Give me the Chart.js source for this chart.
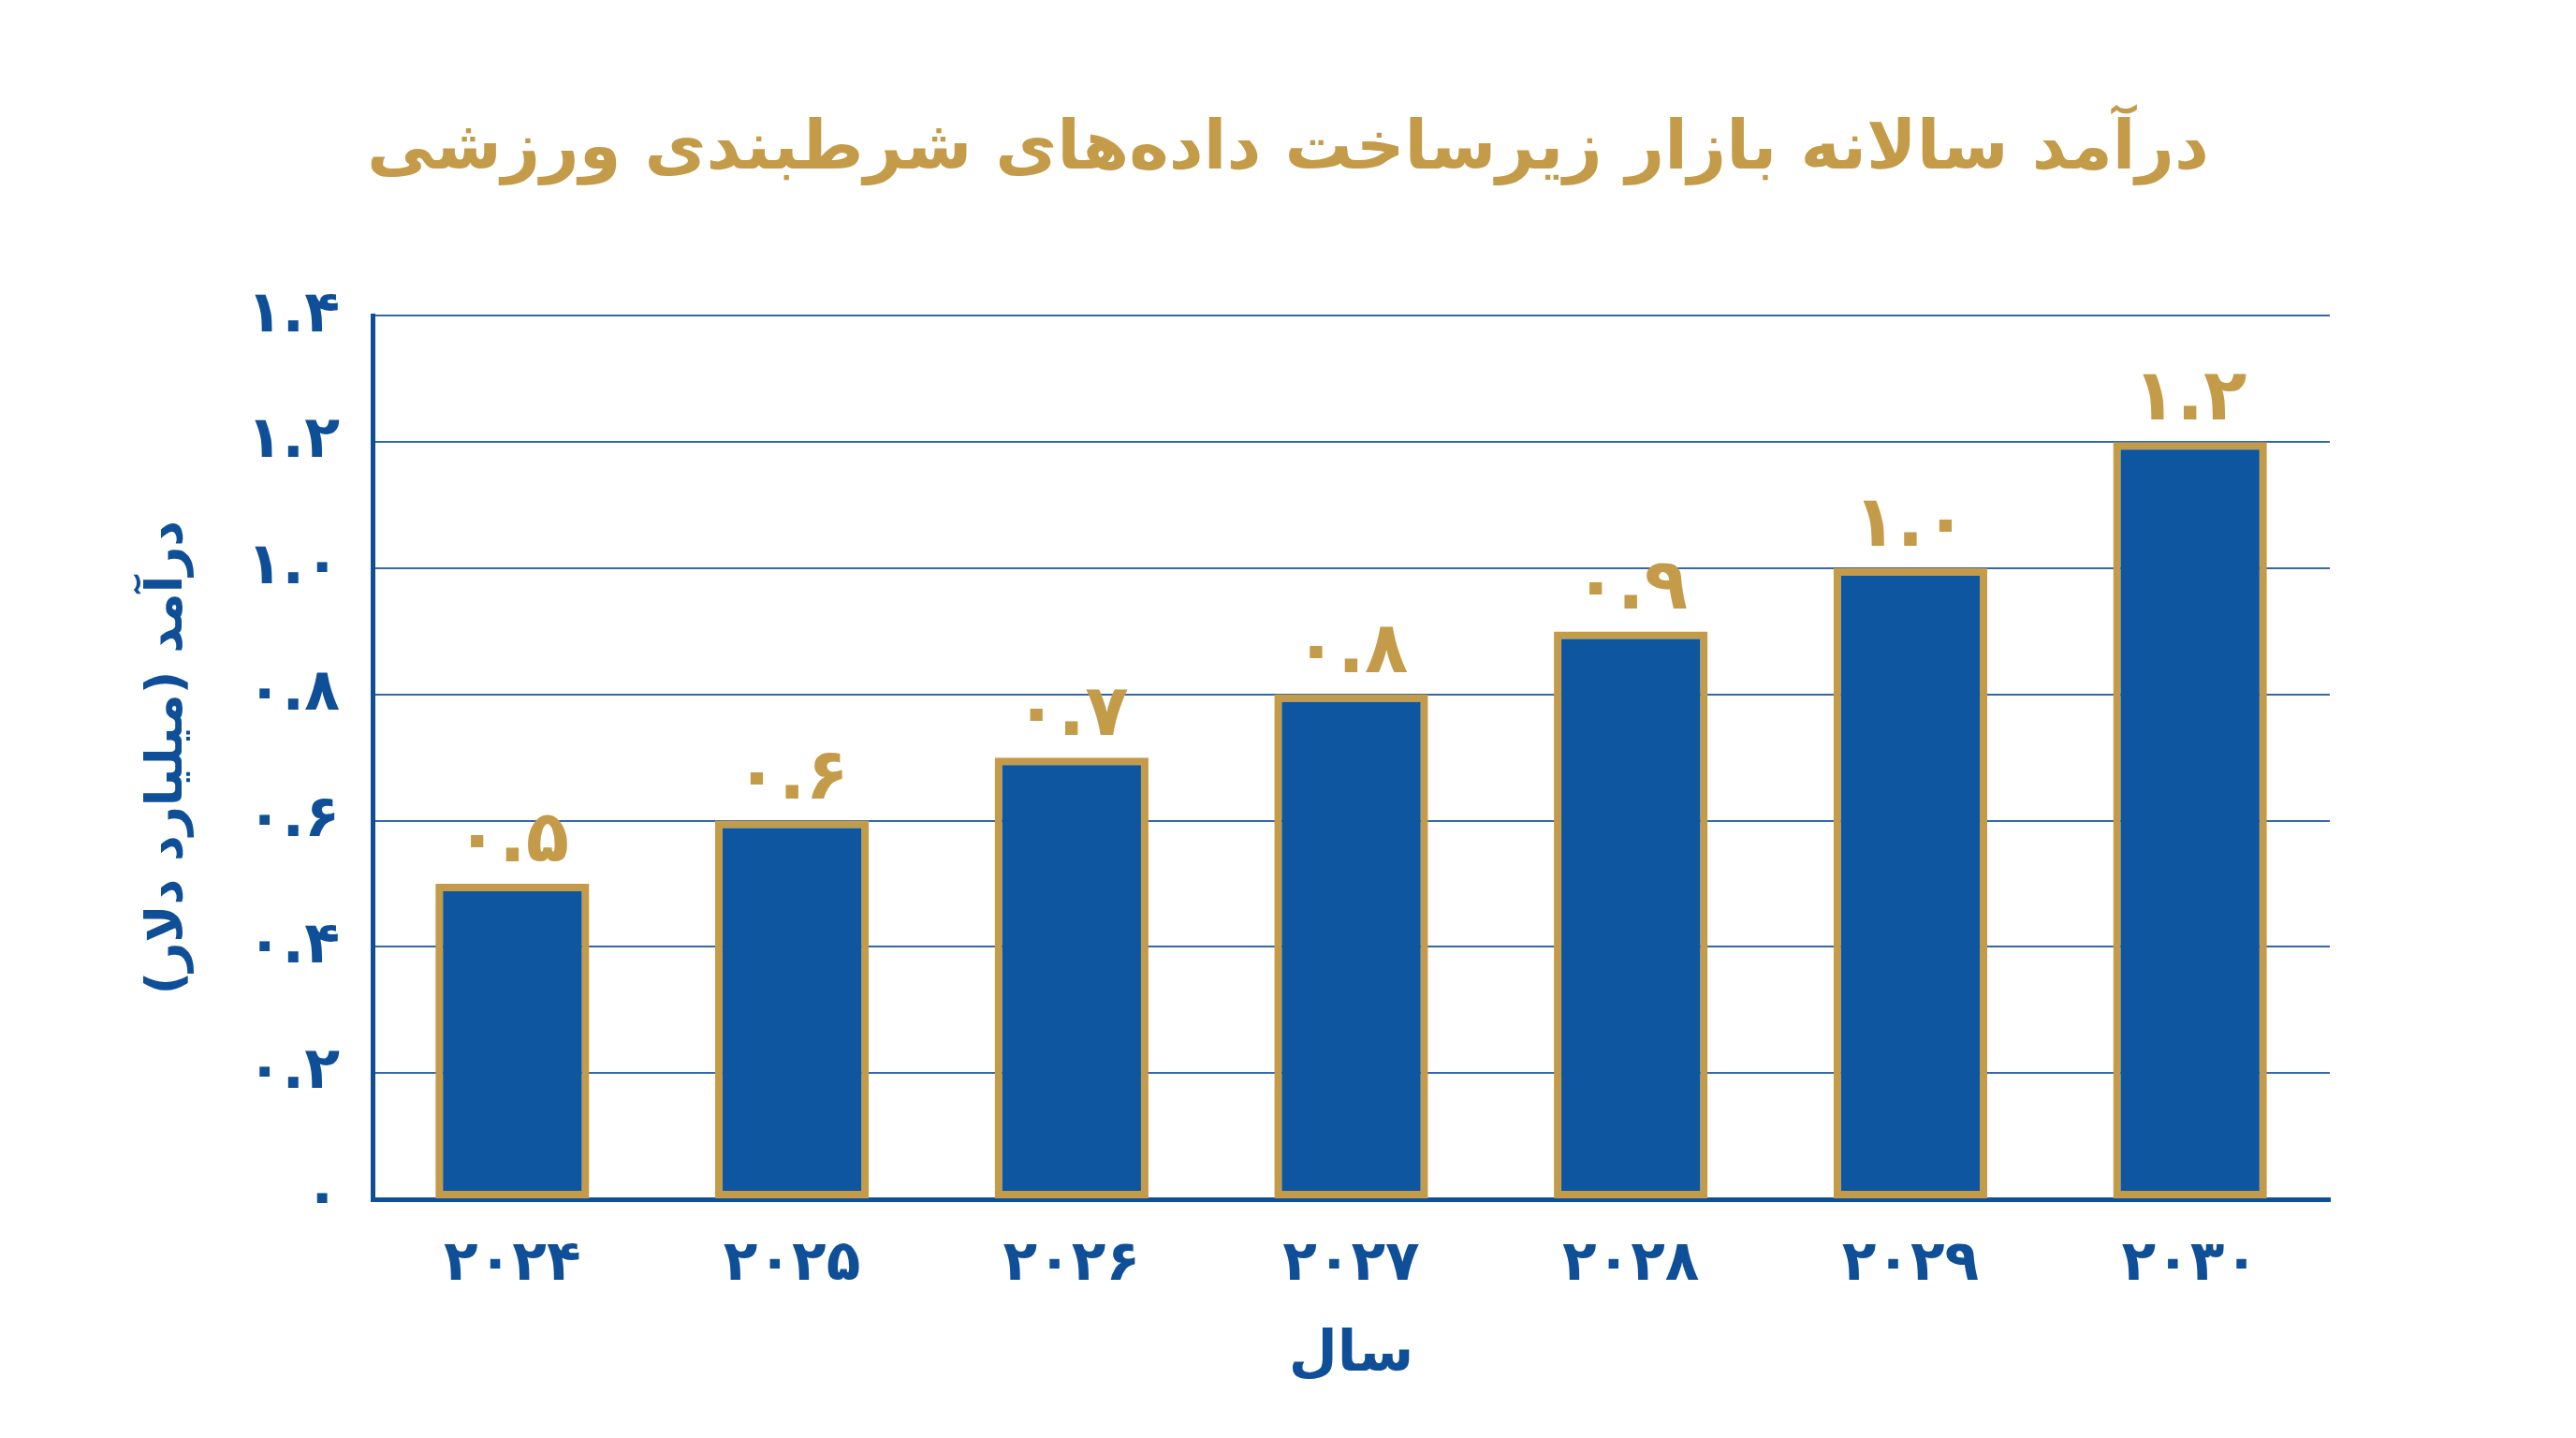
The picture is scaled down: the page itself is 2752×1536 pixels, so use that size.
<!DOCTYPE html>
<html lang="fa">
<head>
<meta charset="utf-8">
<script src="https://cdn.jsdelivr.net/npm/chart.js@4.4.1/dist/chart.umd.min.js"></script>
<style>
  html, body { margin: 0; padding: 0; background: #fff; }
  canvas { display: block; direction: rtl; }
</style>
</head>
<body>
<canvas id="revenueChart" width="2752" height="1536"></canvas>
<script>
// data
const years = ['۲۰۲۴', '۲۰۲۵', '۲۰۲۶', '۲۰۲۷', '۲۰۲۸', '۲۰۲۹', '۲۰۳۰'];
const revenue = [0.5, 0.6, 0.7, 0.8, 0.9, 1.0, 1.2];
const valueLabels = ['۰.۵', '۰.۶', '۰.۷', '۰.۸', '۰.۹', '۱.۰', '۱.۲'];
const yTickLabels = ['۰', '۰.۲', '۰.۴', '۰.۶', '۰.۸', '۱.۰', '۱.۲', '۱.۴'];

const blue = '#0F4F98';
const gold = '#C49B48';
const fontFamily = '"DejaVu Sans", sans-serif';

// draws the number above every bar
const barValues = {
    id: 'barValues',
    afterDatasetsDraw(chart) {
        const ctx = chart.ctx;
        const meta = chart.getDatasetMeta(0);
        ctx.save();
        ctx.fillStyle = gold;
        ctx.font = 'bold 76px ' + fontFamily;
        ctx.textAlign = 'center';
        ctx.textBaseline = 'alphabetic';
        meta.data.forEach((bar, i) => {
            ctx.fillText(valueLabels[i], bar.x, bar.y - 24);
        });
        ctx.restore();
    }
};

const revenueCtx = document.getElementById('revenueChart').getContext('2d');
new Chart(revenueCtx, {
    type: 'bar',
    data: {
        labels: years,
        datasets: [{
            label: 'درآمد',
            data: revenue,
            yAxisID: 'y',
            backgroundColor: '#0E56A0',
            borderColor: gold,
            borderWidth: 8,
            borderSkipped: false,
            categoryPercentage: 1,
            barPercentage: 0.55
        }]
    },
    options: {
        responsive: false,
        devicePixelRatio: 1,
        animation: false,
        layout: {
            padding: 0
        },
        plugins: {
            legend: { display: false },
            tooltip: { enabled: false },
            title: {
                display: true,
                text: 'درآمد سالانه بازار زیرساخت داده‌های شرطبندی ورزشی',
                color: gold,
                font: { family: fontFamily, size: 72, weight: 'bold' },
                padding: { top: 118, bottom: 133 }
            }
        },
        scales: {
            x: {
                grid: { display: false, drawTicks: false },
                border: { display: true, color: blue, width: 5 },
                ticks: {
                    color: blue,
                    padding: 34,
                    font: { family: fontFamily, size: 60, weight: 'bold' }
                },
                title: {
                    display: true,
                    text: 'سال',
                    color: blue,
                    font: { family: fontFamily, size: 60, weight: 'bold' },
                    padding: { top: 0, bottom: 52 }
                },
                afterFit(scale) { scale.height = 255; }
            },
            y: {
                min: 0,
                max: 1.4,
                grid: { color: '#3568A8', lineWidth: 2, drawTicks: false },
                border: { display: true, color: blue, width: 5 },
                ticks: {
                    stepSize: 0.2,
                    color: blue,
                    padding: 35,
                    font: { family: fontFamily, size: 62, weight: 'bold' },
                    callback: (value, index) => yTickLabels[index]
                },
                title: {
                    display: true,
                    text: 'درآمد (میلیارد دلار)',
                    color: blue,
                    font: { family: fontFamily, size: 54, weight: 'bold' },
                    padding: { top: 148, bottom: 0 }
                },
                afterFit(scale) { scale.width = 398; }
            },
            // empty right margin so the title stays centred on the page
            rightSpace: {
                axis: 'y',
                position: 'right',
                min: 0,
                max: 1.4,
                grid: { display: false, drawTicks: false },
                border: { display: false },
                ticks: { display: false },
                afterFit(scale) { scale.width = 263; }
            }
        }
    },
    plugins: [barValues]
});
</script>
</body>
</html>
